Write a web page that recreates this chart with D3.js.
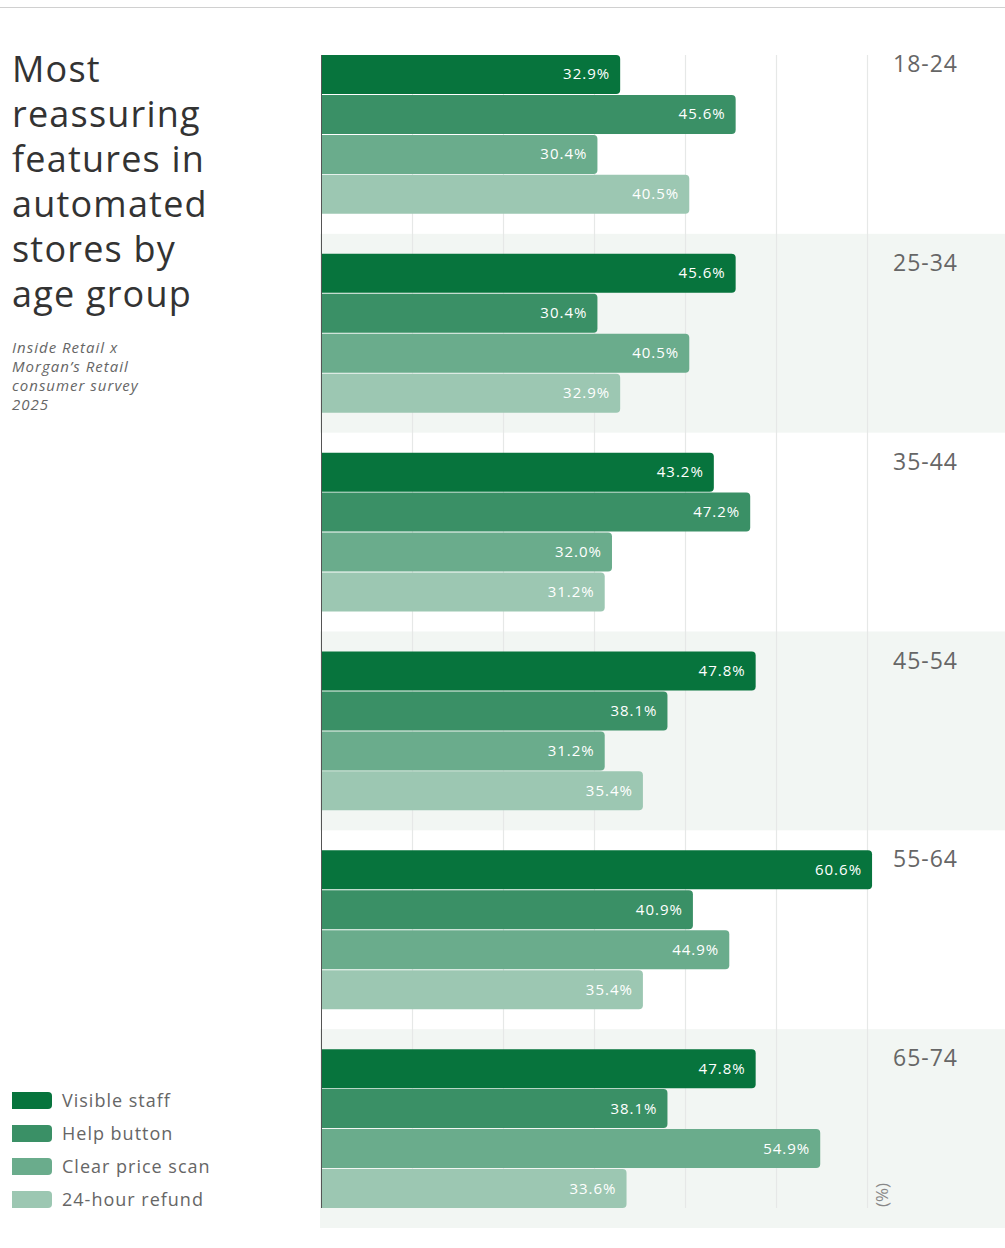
<!DOCTYPE html>
<html>
<head>
<meta charset="utf-8">
<script src="https://cdn.jsdelivr.net/npm/d3@7"></script>
<style>
  body { margin: 0; background: #fff; }
  svg { display: block; font-family: "Open Sans", "Noto Sans", sans-serif; }
</style>
</head>
<body>
<svg id="chart"></svg>
<script>
var ageGroups = ["18-24", "25-34", "35-44", "45-54", "55-64", "65-74"]
var features = ["Visible staff", "Help button", "Clear price scan", "24-hour refund"]

var visibleStaff = [32.9, 45.6, 43.2, 47.8, 60.6, 47.8]
var helpButton = [45.6, 30.4, 47.2, 38.1, 40.9, 38.1]
var clearPriceScan = [30.4, 40.5, 32.0, 31.2, 44.9, 54.9]
var refund24h = [40.5, 32.9, 31.2, 35.4, 35.4, 33.6]

var gridTicks = [10, 20, 30, 40, 50, 60]
var colors = ["#07743d", "#3a9066", "#6aac8c", "#9cc7b2"]

var series = [visibleStaff, helpButton, clearPriceScan, refund24h]

var dimensions = {
  width: 1005,
  height: 1248,
  margin: { top: 35, bottom: 20, right: 2, left: 321 }
}

var svg = d3.select("#chart")
  .attr("width", dimensions.width)
  .attr("height", dimensions.height)

// rows: one entry per bar
var rows = []
ageGroups.forEach(function (g, gi) {
  features.forEach(function (f, fi) {
    rows.push({ group: g, feature: f, value: series[fi][gi], fi: fi })
  })
})

var xScale = d3.scaleLinear()
  .domain([0, 75])
  .range([dimensions.margin.left, dimensions.width - dimensions.margin.right])

var groupScale = d3.scaleBand()
  .domain(ageGroups)
  .range([dimensions.margin.top, dimensions.height - dimensions.margin.bottom])

var barScale = d3.scaleBand()
  .domain(features)
  .range([20, groupScale.bandwidth() - 20])
  .paddingInner(0.025)

// top rule
svg.append("line")
  .attr("x1", 0).attr("x2", dimensions.width)
  .attr("y1", 7.5).attr("y2", 7.5)
  .attr("stroke", "#d0d0d0")

// alternating bands
svg.append("g")
  .selectAll("rect")
  .data(ageGroups.filter((d, i) => i % 2 == 1))
  .enter()
  .append("rect")
  .attr("x", xScale(0) - 1)
  .attr("y", d => groupScale(d))
  .attr("width", dimensions.width - xScale(0) + 1)
  .attr("height", groupScale.bandwidth())
  .attr("fill", "#f2f6f3")

var gridTop = groupScale(ageGroups[0]) + 20
var gridBottom = groupScale(ageGroups[ageGroups.length - 1]) + groupScale.bandwidth() - 20

// gridlines
svg.append("g")
  .selectAll("line")
  .data(gridTicks)
  .enter()
  .append("line")
  .attr("x1", d => Math.round(xScale(d)) + 0.5)
  .attr("x2", d => Math.round(xScale(d)) + 0.5)
  .attr("y1", gridTop)
  .attr("y2", gridBottom)
  .attr("stroke", "#e6e8e7")
  .attr("stroke-width", 1.2)

// bars: rounded on the right end only
function barPath(d) {
  var x0 = xScale(0)
  var x1 = xScale(d.value)
  var y0 = groupScale(d.group) + barScale(d.feature)
  var h = barScale.bandwidth()
  var r = 4
  return "M" + x0 + "," + y0 +
    "H" + (x1 - r) +
    "Q" + x1 + "," + y0 + " " + x1 + "," + (y0 + r) +
    "V" + (y0 + h - r) +
    "Q" + x1 + "," + (y0 + h) + " " + (x1 - r) + "," + (y0 + h) +
    "H" + x0 + "Z"
}

svg.append("g")
  .selectAll("path")
  .data(rows)
  .enter()
  .append("path")
  .attr("d", barPath)
  .attr("fill", d => colors[d.fi])

// value labels
svg.append("g")
  .selectAll("text")
  .data(rows)
  .enter()
  .append("text")
  .attr("x", d => xScale(d.value) - 10)
  .attr("y", d => groupScale(d.group) + barScale(d.feature) + barScale.bandwidth() / 2 + 5)
  .attr("text-anchor", "end")
  .attr("fill", "#fff")
  .style("font-size", "15px")
  .style("letter-spacing", "1px")
  .text(d => d.value.toFixed(1) + "%")

// axis line
svg.append("line")
  .attr("x1", xScale(0) + 0.5).attr("x2", xScale(0) + 0.5)
  .attr("y1", gridTop).attr("y2", gridBottom)
  .attr("stroke", "#555")
  .attr("stroke-width", 1)

// age group labels
svg.append("g")
  .selectAll("text")
  .data(ageGroups)
  .enter()
  .append("text")
  .attr("x", 893)
  .attr("y", d => groupScale(d) + 37)
  .attr("fill", "#666")
  .style("font-size", "23px")
  .style("letter-spacing", "1px")
  .text(d => d)

// unit label
svg.append("text")
  .attr("transform", "translate(888," + (gridBottom - 1) + ") rotate(-90)")
  .attr("fill", "#888")
  .style("font-size", "17px")
  .text("(%)")

// title
var titleLines = ["Most", "reassuring", "features in", "automated", "stores by", "age group"]
svg.append("g")
  .selectAll("text")
  .data(titleLines)
  .enter()
  .append("text")
  .attr("x", 12)
  .attr("y", (d, i) => 82 + i * 45)
  .attr("fill", "#333")
  .style("font-size", "36px")
  .style("letter-spacing", "1.2px")
  .text(d => d)

var subtitleLines = ["Inside Retail x", "Morgan\u2019s Retail", "consumer survey", "2025"]
svg.append("g")
  .selectAll("text")
  .data(subtitleLines)
  .enter()
  .append("text")
  .attr("x", 12)
  .attr("y", (d, i) => 353 + i * 19)
  .attr("fill", "#666")
  .style("font-size", "15px")
  .style("font-style", "italic")
  .style("letter-spacing", "1px")
  .text(d => d)

// legend
var legend = svg.append("g")
  .selectAll("g")
  .data(features)
  .enter()
  .append("g")
  .attr("transform", (d, i) => "translate(12," + (1092 + i * 33) + ")")

legend.append("path")
  .attr("d", "M0,0H36Q40,0 40,4V13Q40,17 36,17H0Z")
  .attr("fill", (d, i) => colors[i])

legend.append("text")
  .attr("x", 50)
  .attr("y", 15)
  .attr("fill", "#666")
  .style("font-size", "18px")
  .style("letter-spacing", "1px")
  .text(d => d)
</script>
</body>
</html>
